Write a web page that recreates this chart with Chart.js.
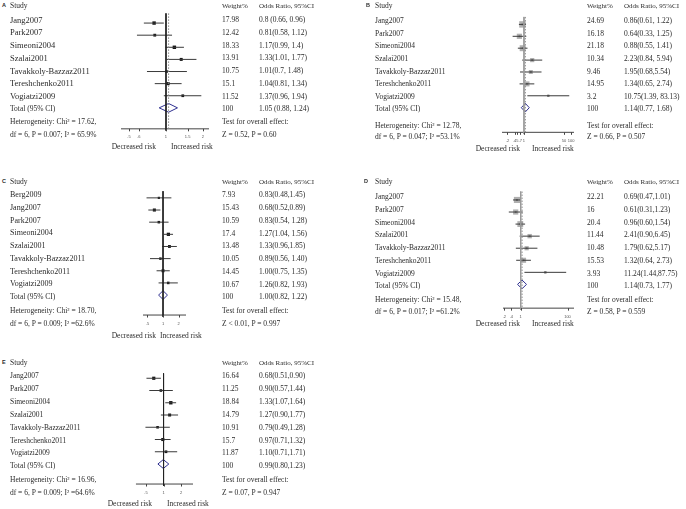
<!DOCTYPE html>
<html>
<head>
<meta charset="utf-8">
<script src="https://cdn.jsdelivr.net/npm/chart.js@4.4.1/dist/chart.umd.min.js"></script>
<style>
body { margin: 0; background: #fff; }
#stage { position: relative; width: 686px; height: 509px; overflow: hidden; background: #fff; }
.t { position: absolute; white-space: nowrap; line-height: 1; color: #2b2b2b;
     font-family: "Liberation Serif", "Times New Roman", serif; }
.tick { position: absolute; white-space: nowrap; line-height: 1; color: #555; font-size: 4px;
     font-family: "Liberation Sans", Arial, sans-serif; transform: translateX(-50%); }
</style>
</head>
<body>
<div id="stage"></div>
<script>
// ---- panel A ----
var studiesA = ['Jang2007', 'Park2007', 'Simeoni2004', 'Szalai2001', 'Tavakkoly-Bazzaz2011', 'Tereshchenko2011', 'Vogiatzi2009'];
var weightA = [17.98, 12.42, 18.33, 13.91, 10.75, 15.1, 11.52];
var orA = [0.8, 0.81, 1.17, 1.33, 1.01, 1.04, 1.37];
var loA = [0.66, 0.58, 0.99, 1.01, 0.7, 0.81, 0.96];
var hiA = [0.96, 1.12, 1.4, 1.77, 1.48, 1.34, 1.94];
var orTextA = ['0.8 (0.66, 0.96)', '0.81(0.58, 1.12)', '1.17(0.99, 1.4)', '1.33(1.01, 1.77)', '1.01(0.7, 1.48)', '1.04(0.81, 1.34)', '1.37(0.96, 1.94)'];
var totalA = [1.05, 0.88, 1.24];
var totalTextA = '1.05 (0.88, 1.24)';
var hetA = ['Heterogeneity: Chi\u00b2 = 17.62,', 'df = 6, P = 0.007; I\u00b2 = 65.9%'];
var testA = 'Z = 0.52, P = 0.60';
var ticksA = [0.5, 0.6, 1, 1.5, 2];
var tickLabelsA = ['.5', '.6', '1', '1.5', '2'];

// ---- panel B ----
var studiesB = ['Jang2007', 'Park2007', 'Simeoni2004', 'Szalai2001', 'Tavakkoly-Bazzaz2011', 'Tereshchenko2011', 'Vogiatzi2009'];
var weightB = [24.69, 16.18, 21.18, 10.34, 9.46, 14.95, 3.2];
var orB = [0.86, 0.64, 0.88, 2.23, 1.95, 1.34, 10.75];
var loB = [0.61, 0.33, 0.55, 0.84, 0.68, 0.65, 1.39];
var hiB = [1.22, 1.25, 1.41, 5.94, 5.54, 2.74, 83.13];
var orTextB = ['0.86(0.61, 1.22)', '0.64(0.33, 1.25)', '0.88(0.55, 1.41)', '2.23(0.84, 5.94)', '1.95(0.68,5.54)', '1.34(0.65, 2.74)', '10.75(1.39, 83.13)'];
var totalB = [1.14, 0.77, 1.68];
var totalTextB = '1.14(0.77, 1.68)';
var hetB = ['Heterogeneity: Chi\u00b2 = 12.78,', 'df = 6, P = 0.047; I\u00b2 =53.1%'];
var testB = 'Z = 0.66, P = 0.507';
var ticksB = [0.2, 0.4, 0.5, 0.7, 1, 50, 100];
var tickLabelsB = ['.2', '.4', '.5', '.7', '1', '50', '100'];

// ---- panel C ----
var studiesC = ['Berg2009', 'Jang2007', 'Park2007', 'Simeoni2004', 'Szalai2001', 'Tavakkoly-Bazzaz2011', 'Tereshchenko2011', 'Vogiatzi2009'];
var weightC = [7.93, 15.43, 10.59, 17.4, 13.48, 10.05, 14.45, 10.67];
var orC = [0.83, 0.68, 0.83, 1.27, 1.33, 0.89, 1.00, 1.26];
var loC = [0.48, 0.52, 0.54, 1.04, 0.96, 0.56, 0.75, 0.82];
var hiC = [1.45, 0.89, 1.28, 1.56, 1.85, 1.40, 1.35, 1.93];
var orTextC = ['0.83(0.48,1.45)', '0.68(0.52,0.89)', '0.83(0.54, 1.28)', '1.27(1.04, 1.56)', '1.33(0.96,1.85)', '0.89(0.56, 1.40)', '1.00(0.75, 1.35)', '1.26(0.82, 1.93)'];
var totalC = [1.00, 0.82, 1.22];
var totalTextC = '1.00(0.82, 1.22)';
var hetC = ['Heterogeneity: Chi\u00b2 = 18.70,', 'df = 6, P = 0.009; I\u00b2 =62.6%'];
var testC = 'Z < 0.01, P = 0.997';
var ticksC = [0.5, 1, 2];
var tickLabelsC = ['.5', '1', '2'];

// ---- panel D ----
var studiesD = ['Jang2007', 'Park2007', 'Simeoni2004', 'Szalai2001', 'Tavakkoly-Bazzaz2011', 'Tereshchenko2011', 'Vogiatzi2009'];
var weightD = [22.21, 16, 20.4, 11.44, 10.48, 15.53, 3.93];
var orD = [0.69, 0.61, 0.96, 2.41, 1.79, 1.32, 11.24];
var loD = [0.47, 0.31, 0.60, 0.90, 0.62, 0.64, 1.44];
var hiD = [1.01, 1.23, 1.54, 6.45, 5.17, 2.73, 87.75];
var orTextD = ['0.69(0.47,1.01)', '0.61(0.31,1.23)', '0.96(0.60,1.54)', '2.41(0.90,6.45)', '1.79(0.62,5.17)', '1.32(0.64, 2.73)', '11.24(1.44,87.75)'];
var totalD = [1.14, 0.73, 1.77];
var totalTextD = '1.14(0.73, 1.77)';
var hetD = ['Heterogeneity: Chi\u00b2 = 15.48,', 'df = 6, P = 0.017; I\u00b2 =61.2%'];
var testD = 'Z = 0.58, P = 0.559';
var ticksD = [0.2, 0.4, 1, 100];
var tickLabelsD = ['.2', '.4', '1', '100'];

// ---- panel E ----
var studiesE = ['Jang2007', 'Park2007', 'Simeoni2004', 'Szalai2001', 'Tavakkoly-Bazzaz2011', 'Tereshchenko2011', 'Vogiatzi2009'];
var weightE = [16.64, 11.25, 18.84, 14.79, 10.91, 15.7, 11.87];
var orE = [0.68, 0.90, 1.33, 1.27, 0.79, 0.97, 1.10];
var loE = [0.51, 0.57, 1.07, 0.90, 0.49, 0.71, 0.71];
var hiE = [0.90, 1.44, 1.64, 1.77, 1.28, 1.32, 1.71];
var orTextE = ['0.68(0.51,0.90)', '0.90(0.57,1.44)', '1.33(1.07,1.64)', '1.27(0.90,1.77)', '0.79(0.49,1.28)', '0.97(0.71,1.32)', '1.10(0.71,1.71)'];
var totalE = [0.99, 0.80, 1.23];
var totalTextE = '0.99(0.80,1.23)';
var hetE = ['Heterogeneity: Chi\u00b2 = 16.96,', 'df = 6, P = 0.009; I\u00b2 =64.6%'];
var testE = 'Z = 0.07, P = 0.947';
var ticksE = [0.5, 1, 2];
var tickLabelsE = ['.5', '1', '2'];

var panels = [
    { letter: 'A', studies: studiesA, weight: weightA, or: orA, lo: loA, hi: hiA, orText: orTextA, total: totalA, totalText: totalTextA, het: hetA, test: testA, ticks: ticksA, tickLabels: tickLabelsA,
      top: 0, height: 170, y0: 7.3, step: 12.71, axisY: 131, axisL: 121, axisR: 209, xMin: 0.43, xMax: 2.24, lineTop: 0.2,
      pooled: true, nullColor: '#222', grey: false, k: 0.8, nameSize: 8.5, letterX: 2, nameX: 10, weightX: 222, orX: 259,
      headerY: 6, hetY: 122, dfY: 135, riskY: 147, decEnd: 156, incStart: 171 },
    { letter: 'B', studies: studiesB, weight: weightB, or: orB, lo: loB, hi: hiB, orText: orTextB, total: totalB, totalText: totalTextB, het: hetB, test: testB, ticks: ticksB, tickLabels: tickLabelsB,
      top: 0, height: 170, y0: 8.4, step: 12.57, axisY: 135, axisL: 502, axisR: 574, xMin: 0.117, xMax: 132, lineTop: 0.37,
      pooled: true, nullColor: '#9a9a9a', grey: true, k: 1.3, nameSize: 7.5, letterX: 366, nameX: 375, weightX: 587, orX: 624,
      headerY: 6, hetY: 126, dfY: 137, riskY: 149, decEnd: 520, incStart: 532 },
    { letter: 'C', studies: studiesC, weight: weightC, or: orC, lo: loC, hi: hiC, orText: orTextC, total: totalC, totalText: totalTextC, het: hetC, test: testC, ticks: ticksC, tickLabels: tickLabelsC,
      top: 170, height: 170, y0: 182.3, step: 12.75, axisY: 318, axisL: 143, axisR: 186, xMin: 0.41, xMax: 2.78, lineTop: 0.45,
      pooled: false, nullColor: '#222', grey: false, k: 0.78, nameSize: 8, letterX: 2, nameX: 10, weightX: 222, orX: 259,
      headerY: 182, hetY: 311, dfY: 324, riskY: 336, decEnd: 156, incStart: 160 },
    { letter: 'D', studies: studiesD, weight: weightD, or: orD, lo: loD, hi: hiD, orText: orTextD, total: totalD, totalText: totalTextD, het: hetD, test: testD, ticks: ticksD, tickLabels: tickLabelsD,
      top: 170, height: 170, y0: 184.3, step: 12.71, axisY: 311, axisL: 503, axisR: 574, xMin: 0.175, xMax: 189, lineTop: 0.3,
      pooled: true, nullColor: '#9a9a9a', grey: true, k: 1.3, nameSize: 7.5, letterX: 364, nameX: 375, weightX: 587, orX: 624,
      headerY: 182, hetY: 300, dfY: 312, riskY: 324, decEnd: 520, incStart: 532 },
    { letter: 'E', studies: studiesE, weight: weightE, or: orE, lo: loE, hi: hiE, orText: orTextE, total: totalE, totalText: totalTextE, het: hetE, test: testE, ticks: ticksE, tickLabels: tickLabelsE,
      top: 340, height: 169, y0: 363.1, step: 12.86, axisY: 487, axisL: 133, axisR: 193, xMin: 0.337, xMax: 3.19, lineTop: 0.6,
      pooled: false, nullColor: '#222', grey: false, k: 0.78, nameSize: 7.5, letterX: 2, nameX: 10, weightX: 222, orX: 259,
      headerY: 363, hetY: 480, dfY: 493, riskY: 504, decEnd: 152, incStart: 167 }
];

var stage = document.getElementById('stage');

// text centred on y, snapped to whole pixels
function addText(x, y, text, size, extra, alignRight) {
    var d = document.createElement('div');
    d.className = 't';
    d.textContent = text;
    d.style.fontSize = size + 'px';
    d.style.top = Math.round(y - size / 2) + 'px';
    if (alignRight) d.style.right = Math.round(686 - x) + 'px';
    else d.style.left = Math.round(x) + 'px';
    if (extra) d.style.cssText += extra;
    stage.appendChild(d);
    return d;
}

// short tick marks under the axis line, placed with the chart's own x scale
var tickPlugin = {
    id: 'forestTicks',
    afterDatasetsDraw: function (chart, args, opts) {
        var ctx = chart.ctx;
        var py = chart.scales.y.getPixelForValue(opts.row);
        ctx.save();
        ctx.strokeStyle = '#444';
        ctx.lineWidth = 1;
        ctx.beginPath();
        opts.values.forEach(function (v) {
            var px = Math.round(chart.scales.x.getPixelForValue(v)) + 0.5;
            ctx.moveTo(px, py);
            ctx.lineTo(px, py + 2.5);
        });
        ctx.stroke();
        ctx.restore();
    }
};

function seg(x1, y1, x2, y2, color, width, dash) {
    return {
        data: [{ x: x1, y: y1 }, { x: x2, y: y2 }],
        showLine: true, pointRadius: 0, borderColor: color, borderWidth: width || 1,
        borderDash: dash || [], clip: false
    };
}

function makePanel(p) {
    var padX = 40;
    var cw = p.axisR - p.axisL + 2 * padX;
    var ch = p.height;
    var cLeft = p.axisL - padX;
    var canvas = document.createElement('canvas');
    canvas.width = cw;
    canvas.height = ch;
    canvas.style.cssText = 'position:absolute;left:' + cLeft + 'px;top:' + p.top + 'px;width:' + cw + 'px;height:' + ch + 'px';
    stage.appendChild(canvas);

    var yMin = -(p.y0 - p.top) / p.step;
    var yMax = yMin + ch / p.step;
    var n = p.studies.length;
    var totalRow = n + 1;
    var axisRow = (p.axisY - p.y0) / p.step;
    var rows = p.or.map(function (v, i) { return i + 1; });

    var datasets = [];
    datasets.push(seg(1, p.lineTop, 1, axisRow + 0.15, p.nullColor, 1));
    if (p.pooled) datasets.push(seg(p.total[0], p.lineTop, p.total[0], axisRow, '#8a8a8a', 1, [1.5, 1.5]));
    datasets.push(seg(p.xMin, axisRow, p.xMax, axisRow, '#444', 1));
    p.lo.forEach(function (lo, i) {
        datasets.push(seg(lo, rows[i], p.hi[i], rows[i], '#3a3a3a', 1));
    });
    var pts = p.or.map(function (v, i) { return { x: v, y: rows[i] }; });
    if (p.grey) {
        datasets.push({
            data: pts, pointStyle: 'rect', clip: false, borderWidth: 0,
            pointRadius: p.weight.map(function (w) { return Math.sqrt(w) * p.k / Math.SQRT2; }),
            backgroundColor: 'rgba(150,150,150,0.75)'
        });
        datasets.push({ data: pts, pointStyle: 'rect', clip: false, borderWidth: 0, pointRadius: 1.3, backgroundColor: '#111' });
    } else {
        datasets.push({
            data: pts, pointStyle: 'rect', clip: false, borderWidth: 0,
            pointRadius: p.weight.map(function (w) { return Math.sqrt(w) * p.k / Math.SQRT2; }),
            backgroundColor: '#151515'
        });
    }
    var t = p.total;
    datasets.push({
        data: [{ x: t[1], y: totalRow }, { x: t[0], y: totalRow - 0.36 }, { x: t[2], y: totalRow },
               { x: t[0], y: totalRow + 0.36 }, { x: t[1], y: totalRow }],
        showLine: true, pointRadius: 0, borderColor: '#2e2f8f', borderWidth: 1, clip: false,
        backgroundColor: '#fff', fill: false, tension: 0
    });

    var chart = new Chart(canvas, {
        type: 'scatter',
        data: { datasets: datasets },
        options: {
            responsive: false,
            animation: false,
            events: [],
            devicePixelRatio: 1,
            layout: { padding: { left: padX, right: padX, top: 0, bottom: 0 } },
            plugins: {
                legend: { display: false },
                tooltip: { enabled: false },
                forestTicks: { values: p.ticks, row: axisRow }
            },
            scales: {
                x: { type: 'logarithmic', min: p.xMin, max: p.xMax, display: false },
                y: { type: 'linear', min: yMin, max: yMax, reverse: true, display: false }
            }
        },
        plugins: [tickPlugin]
    });

    // tick labels as text, placed from the x scale
    p.ticks.forEach(function (v, i) {
        var d = document.createElement('div');
        d.className = 'tick';
        d.textContent = p.tickLabels[i];
        d.style.left = (cLeft + chart.scales.x.getPixelForValue(v)) + 'px';
        d.style.top = (p.axisY + 4) + 'px';
        stage.appendChild(d);
    });

    // text columns
    addText(p.letterX, p.headerY, p.letter, 5.5, 'font-family:"Liberation Sans",Arial,sans-serif;font-weight:bold;');
    addText(p.nameX, p.headerY, 'Study', 7.5);
    addText(p.weightX, p.headerY, 'Weight%', 7);
    addText(p.orX, p.headerY, 'Odds Ratio, 95%CI', 7);
    p.studies.forEach(function (s, i) {
        var y = p.y0 + rows[i] * p.step;
        addText(p.nameX, y, s, p.nameSize);
        addText(p.weightX, y, String(p.weight[i]), 7.5);
        addText(p.orX, y, p.orText[i], 7.5);
    });
    var ty = p.y0 + totalRow * p.step;
    addText(p.nameX, ty, 'Total (95% CI)', 7.5);
    addText(p.weightX, ty, '100', 7.5);
    addText(p.orX, ty, p.totalText, 7.5);
    addText(p.nameX, p.hetY, p.het[0], 7.5);
    addText(p.nameX, p.dfY, p.het[1], 7.5);
    addText(p.weightX, p.hetY, 'Test for overall effect:', 7.5);
    addText(p.weightX, p.dfY, p.test, 7.5);
    addText(p.decEnd, p.riskY, 'Decreased risk', 7.5, '', true);
    addText(p.incStart, p.riskY, 'Increased risk', 7.5);
}

panels.forEach(makePanel);
</script>
</body>
</html>
